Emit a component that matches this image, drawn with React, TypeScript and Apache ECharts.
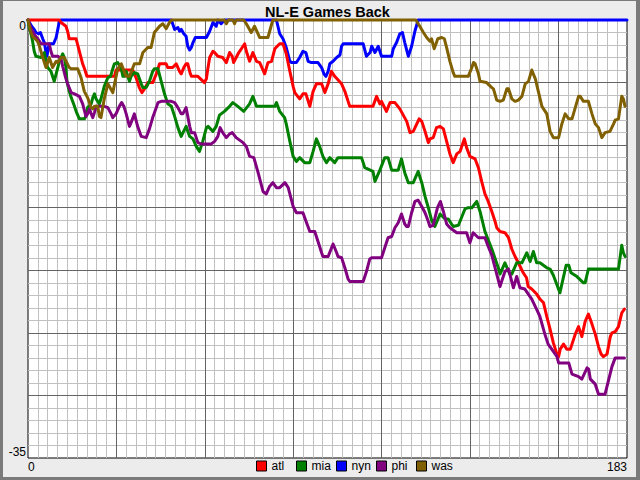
import React, { useEffect, useRef } from "react";
import * as echarts from "echarts";

// ---- data (game number, games back) ----
const seriesNames = ["atl", "mia", "nyn", "phi", "was"];
const seriesColors = ["#ff0000", "#008000", "#0000ff", "#800080", "#806000"];
// drawing order (first = bottom-most line)
const drawOrder = [2, 0, 1, 3, 4];

const atl: [number, number][] = [
  [0, 0], [9.6, 0], [10.1, -0.2], [11.6, -0.5], [12.1, -0.9], [12.6, -1.5], [14.7, -1.5], [15.2, -2], [15.7, -2.5],
  [16.2, -3], [16.7, -3.5], [17.4, -4], [18, -4.5], [26.4, -4.5], [26.9, -4], [32, -4], [33, -4.6], [34, -5.4],
  [34.8, -5.8], [35.6, -5.5], [36.6, -5], [38.1, -5], [39.2, -4.3], [39.7, -3.9], [40.2, -3.5], [42.2, -3.5],
  [42.7, -3.8], [44.2, -3.8], [45.3, -3.5], [46.3, -4.1], [46.8, -4.3], [47.6, -3.8], [48.3, -3.5], [48.8, -3.5],
  [49.6, -4.3], [49.9, -4.5], [51.9, -4.5], [52.7, -4.7], [53.9, -5], [54.5, -4.7], [55, -3.8], [55.5, -3],
  [56.5, -2.5], [57, -2.6], [58, -2.9], [59.5, -3], [60.6, -3.4], [61.1, -3], [61.6, -2.6], [62.4, -2.9],
  [62.8, -3.4], [63.6, -3], [64.4, -2.6], [65.7, -2.1], [66.2, -1.9], [66.7, -2.5], [67.7, -3.3], [68.7, -2.6],
  [69.8, -3.3], [70.8, -3.4], [72.3, -4.3], [73.3, -3.4], [74.4, -3.3], [75.4, -2.3], [76.9, -1.9], [77.9, -1.9],
  [78.9, -2.7], [80, -4.1], [81, -5.3], [81.5, -5.8], [83, -6.3], [84, -5.9], [84.9, -5.9], [86.1, -6.9],
  [87.1, -5.7], [88.1, -5.1], [89.7, -5.1], [90.7, -5.8], [91.7, -5.1], [92.7, -4.1], [93.7, -4.5], [95.8, -5.1],
  [96.8, -5.7], [98.3, -6.9], [105.4, -6.9], [106.5, -6.1], [107.5, -6.7], [108, -6.5], [109.5, -7.3],
  [110.6, -6.6], [112.1, -6.6], [113.6, -7.1], [115.7, -8.1], [116.7, -9], [117.7, -8.9], [119.5, -7.9],
  [120.3, -8.1], [121.3, -8.9], [122.3, -9.8], [122.8, -9.5], [123.8, -9.4], [124.8, -8.6], [125.9, -8.5],
  [126.9, -8.7], [127.9, -9.7], [128.9, -10.7], [129.9, -11.4], [131, -10.7], [132, -10.5], [133.3, -9.5],
  [134, -10.2], [135, -10.9], [136.6, -11.1], [137.6, -11.8], [138.6, -12.9], [139.6, -13.9], [140.6, -14.5],
  [141.7, -15.3], [142.7, -16.1], [143.2, -16.6], [144.2, -16.9], [145.7, -17], [146.8, -17.4], [147.8, -18.3],
  [148.8, -18.9], [149.8, -19.4], [151.3, -20.2], [152.3, -20.6], [152.8, -21.3], [153.9, -21.5], [155.4, -21.9],
  [156.4, -22.3], [157.5, -22.6], [158.5, -23.7], [159.5, -24.7], [160.5, -25.8], [161.6, -26.7], [162.1, -26.9],
  [162.6, -26.3], [163.6, -25.9], [164.6, -26.3], [165.7, -26.3], [167.2, -25.1], [168.2, -24.5], [169.2, -25.3],
  [170.2, -24.1], [171.2, -23.5], [172.3, -24.3], [173.3, -25.1], [174.3, -26.1], [175.1, -26.7], [175.8, -26.9],
  [176.9, -26.7], [177.9, -25.3], [178.4, -25], [179.4, -24.9], [180.4, -24.5], [181.4, -23.4], [182.2, -23.1],
];

const mia: [number, number][] = [
  [0, 0], [0.4, -0.6], [0.9, -1.1], [1.4, -1.7], [1.9, -2.5], [2.4, -2.9], [4, -3], [5, -2.6], [5.5, -3.3],
  [6, -3.8], [7, -4.1], [8, -4.9], [8.6, -4.3], [9.6, -3.3], [10.6, -2.7], [11.1, -3], [11.6, -3.8], [11.9, -4.9],
  [12.6, -5.7], [13.2, -6.2], [14.2, -6.9], [14.7, -7.3], [15.7, -7.9], [17.2, -7.9], [17.7, -7.7], [18.2, -7],
  [19.3, -6.7], [19.8, -6.2], [20.3, -5.9], [20.8, -6.3], [21.8, -6.7], [22.3, -6.3], [23.3, -5.3], [24.4, -4.6],
  [25.2, -4.5], [25.9, -3.9], [26.4, -3.5], [27.4, -3.4], [28.5, -3.9], [29, -4.5], [29.5, -4.5], [30, -4.1],
  [31, -4.9], [31.5, -4.5], [32.5, -4.2], [33.5, -4.3], [34.6, -5.1], [35.1, -5.4], [36.1, -5.4], [37.1, -4.9],
  [38.1, -4.1], [38.6, -3.9], [39.7, -3.9], [40.7, -4.9], [41.7, -5.9], [42.7, -6.7], [43.8, -6.9], [44.8, -7.7],
  [45.8, -8.6], [46.8, -9.3], [48.3, -8.5], [49.4, -9.3], [50.4, -9.5], [51.4, -10.1], [52.4, -10.5],
  [53.4, -9.7], [54.5, -8.6], [55, -8.5], [56.5, -8.9], [57.5, -8.5], [58.5, -7.6], [60, -7.3], [61.6, -6.9],
  [62.6, -6.6], [64.1, -6.9], [65.9, -7.3], [67.7, -6.7], [68.7, -6.1], [69.8, -6.9], [75.4, -6.9], [75.9, -6.6],
  [76.9, -7.3], [78.4, -7.8], [78.9, -8.3], [80, -9.7], [81, -10.9], [82, -11.3], [83, -11], [84.5, -11.4],
  [86.1, -11.4], [87.1, -10.5], [88.1, -9.5], [89.1, -10.1], [90.1, -10.9], [91.2, -11.4], [92.2, -11],
  [93.7, -11.4], [94.7, -11], [101.9, -11], [102.9, -11.8], [105.4, -12.1], [106, -12.9], [107.5, -12],
  [109, -11], [110, -11], [111.1, -12], [113.1, -12], [114.1, -11.1], [115.1, -12.2], [116.2, -13],
  [117.7, -13], [119.2, -12.1], [120.3, -13], [121.3, -14.1], [122.3, -15], [123.3, -16], [124.3, -16.5],
  [125.9, -15.5], [127.4, -15.9], [128.4, -15.9], [129.9, -16.5], [131.5, -16.4], [133.5, -15.1], [134.5, -15],
  [135.6, -15], [137.1, -14.5], [138.1, -15.3], [139.6, -16.9], [141.7, -18.3], [143.8, -19.9], [144.2, -20.3],
  [145.7, -19.4], [147.2, -20.3], [147.8, -20.3], [149.3, -19.4], [150.9, -19.4], [152.4, -18.6], [153.4, -19.3],
  [154.4, -18.5], [155.4, -19.4], [156.4, -19.4], [158.5, -19.8], [159.5, -19.9], [160.5, -20.4], [162.5, -21.8],
  [164.4, -19.6], [165.2, -19.6], [165.9, -20.2], [167.7, -20.5], [169.7, -21], [170.2, -21], [171.2, -19.9],
  [180.4, -19.9], [181.4, -18], [181.9, -18.6], [182.4, -18.9],
];

const nyn: [number, number][] = [
  [0, 0], [1.1, -0.5], [1.9, -0.75], [2.4, -1], [3.2, -1.1], [3.8, -1], [4.5, -1.5], [5, -1.8], [5.5, -2.6],
  [5.8, -2.9], [6.2, -2.2], [6.5, -1.9], [7.8, -1.9], [8.6, -1.4], [9.1, -0.75], [9.6, -0.1], [10, 0],
  [43.8, 0], [44.8, -0.75], [45.8, -0.6], [46.3, -0.9], [46.8, -0.75], [47.6, -1.1], [48.3, -1.3], [48.8, -2.1],
  [49.4, -2.4], [49.9, -2.2], [50.4, -1.8], [51.1, -1.4], [54.5, -1.4], [55.5, -0.9], [56.5, -0.2], [57.5, -0.5],
  [58, 0], [59, -0.3], [60, 0], [75.9, 0], [76.9, -1.1], [77.9, -1.5], [78.9, -2.2], [80, -3.3], [80.5, -3.4],
  [82, -3.4], [83, -3], [84, -2.5], [84.9, -2.6], [85.6, -3.3], [86.6, -3.4], [88.6, -3.4], [89.7, -3.8],
  [90.4, -4.3], [91, -4.5], [91.7, -4.1], [92.2, -3.5], [93.2, -3.3], [94.3, -3], [95.3, -2.8], [95.8, -2.1],
  [96.3, -1.9], [102.4, -1.9], [103.4, -2.9], [104.5, -2.6], [105, -2.1], [106, -2.6], [107, -2.1], [108, -2.9],
  [111.1, -2.9], [111.6, -2.3], [112.6, -1.8], [113.6, -1.1], [114.4, -1], [115.1, -1.8], [116.2, -2.9],
  [117.2, -2.1], [118.2, -0.9], [119.2, 0], [183, 0],
];

const phi: [number, number][] = [
  [0, 0], [1, -0.7], [2, -1.2], [3, -1.5], [4, -1.9], [6.5, -1.9], [7, -2.5], [7.5, -2.9], [9.1, -2.9],
  [10.1, -3.1], [10.6, -3.7], [11.6, -4.7], [12.1, -5.1], [13.2, -5.8], [14.2, -5.9], [15.7, -6.1], [16.7, -6.7],
  [17.7, -7.7], [18.2, -7.5], [18.8, -7.1], [19.3, -7.5], [19.8, -7.8], [20.3, -7.4], [20.8, -6.9], [23.3, -6.9],
  [24.4, -7], [25.4, -7.5], [25.9, -7.8], [26.9, -7.5], [27.9, -6.9], [28.6, -6.6], [29.3, -6.9], [30, -7.5],
  [31, -8.5], [31.5, -8.2], [32.5, -7.5], [33.5, -8.5], [34.6, -9.3], [36.1, -9.4], [37.1, -8.7], [38.1, -7.8],
  [39.2, -7], [39.7, -6.6], [40.7, -6.5], [43.8, -6.5], [44.8, -6.6], [45.8, -7], [46.8, -7.5], [47.3, -7.5],
  [48.3, -7], [49.4, -8.5], [49.9, -9], [50.9, -9], [51.9, -9.8], [52.9, -9.9], [56, -9.9], [57, -9.7],
  [58, -9.3], [58.7, -8.6], [59.5, -9], [60.6, -9.4], [61.6, -9.1], [62.4, -9], [63.6, -9.4], [65.7, -9.8],
  [66.7, -10.1], [67.7, -10.9], [69, -11], [70.3, -12.2], [71.8, -13.7], [72.8, -13.9], [73.8, -13.3],
  [74.8, -13], [75.9, -13.4], [76.9, -13.4], [78.5, -13], [79.5, -13.4], [80, -13.9], [81, -14.9], [82, -15.4],
  [84, -15.4], [85.1, -16.2], [86.1, -16.9], [87.6, -16.9], [88.6, -17.7], [89.7, -18.6], [90.1, -18.9],
  [91.7, -18.9], [93.2, -17.9], [94.3, -18.6], [94.7, -18.9], [95.8, -19], [96.8, -19.8], [97.8, -20.7],
  [98.3, -20.9], [102.4, -20.9], [103.4, -20.1], [104.4, -19.1], [105, -19], [108, -19], [109, -18.2],
  [110, -17.4], [111.1, -17.3], [112.1, -16.6], [113.1, -16.2], [114.1, -15.5], [115.1, -16.3], [115.7, -16.5],
  [116.2, -16.5], [117.2, -15.4], [118.2, -14.5], [119.2, -14.4], [120.3, -14.9], [121.3, -15.4], [122.3, -16.1],
  [122.8, -16.5], [123.8, -16.4], [125.1, -15], [126, -14.5], [126.9, -15.3], [127.9, -16.3], [128.9, -16.6],
  [131, -17], [134, -17], [135, -17.8], [136, -17], [137.6, -17.4], [139.6, -17.4], [140.6, -18.1],
  [141.7, -18.8], [142.7, -19.8], [144.2, -21.3], [145.7, -20.1], [146.8, -19.9], [148.3, -21.4], [149.3, -20.5],
  [150.3, -21.4], [151.8, -21.5], [153.9, -22.3], [155.9, -23.4], [156.4, -23.7], [157.9, -25.1], [158.9, -25.9],
  [160, -26.3], [161.6, -26.9], [162.1, -27.4], [165.2, -27.4], [166.2, -28.3], [168.2, -28.5], [169.2, -28.7],
  [170.8, -27.8], [171.3, -27.9], [171.8, -28.7], [173.3, -29.1], [174.3, -29.9], [176.3, -29.9], [178.4, -27.7],
  [179.4, -27], [182.2, -27],
];

const was: [number, number][] = [
  [0, 0], [0.9, -1], [1.4, -1.3], [2.9, -1.7], [3.5, -2.1], [4.5, -3], [5.5, -3.8], [6.5, -3], [7.5, -3.8],
  [8.6, -3.3], [9.1, -3.4], [10.1, -3], [11.1, -3], [12.6, -3.8], [13.2, -3.9], [15.2, -3.9], [16.2, -4.6],
  [17.2, -5.7], [18.2, -6.2], [19.3, -7], [19.8, -7.1], [20.3, -6.9], [21.3, -6.9], [21.8, -7.7], [22.3, -7.8],
  [23.3, -6.3], [24.4, -5.1], [25.9, -5.8], [27.4, -3.9], [28.5, -3.5], [29.5, -4.2], [30, -4.5], [31, -4.5],
  [32.5, -3.5], [34.1, -3.5], [35.1, -2.6], [36.6, -2.2], [37.6, -2.2], [38.6, -1], [40.2, -0.5], [41.2, -0.3],
  [42.2, -0.7], [43.2, -0.2], [43.8, 0], [60, 0], [60.6, -0.3], [61.2, 0], [62.6, 0], [63.1, -0.3], [63.6, 0],
  [65.9, 0], [66.7, -0.3], [68.2, -1], [69.2, -0.5], [70.8, -1.4], [73.3, -1.4], [74.8, 0], [118.5, 0],
  [119.7, -0.5], [120.8, -1], [121.8, -1.4], [122.8, -1.7], [123.3, -1.5], [124.1, -2.3], [125.2, -1.5],
  [126.4, -1.4], [127.2, -1.5], [127.9, -2.2], [128.9, -3.3], [129.9, -4.2], [130.4, -4.5], [134.5, -4.5],
  [135.6, -3.8], [136.1, -3.4], [136.6, -3.5], [137.6, -4.3], [138.1, -4.9], [140.1, -5], [141.7, -5.4],
  [142.2, -5.5], [143.2, -6.4], [144.2, -6.5], [145.2, -6.4], [146.3, -5.5], [146.8, -5.5], [147.8, -6.3],
  [148.8, -6.5], [149.8, -6.4], [150.9, -6.1], [151.9, -5.1], [152.9, -4.9], [153.9, -4], [155, -4.7],
  [156, -5.8], [157, -6.9], [158, -7.3], [158.5, -7.5], [159.5, -8.9], [160.5, -9.4], [162.1, -9.4],
  [163.1, -8.3], [164.1, -7.5], [165.2, -7.9], [166.2, -7.9], [167.2, -7], [168.2, -6.1], [168.7, -6.1],
  [169.7, -6.5], [171.2, -6.5], [172.3, -7.5], [173.3, -8.3], [174.3, -8.6], [175.3, -9.4], [176.3, -9],
  [177.8, -8.9], [178.9, -8.3], [179.4, -8], [180.4, -7.9], [180.9, -7], [181.4, -6.1], [181.9, -6.3],
  [182.4, -6.9],
];

const seriesData = [atl, mia, nyn, phi, was];

// axis ranges and tick labels
const xMin = 0;
const xMax = 183;
const yMin = -35;
const yMax = 0;
const xMinorStep = 3;
const xMajorStep = 27;
const yMinorStep = 1;
const yMajorStep = 5;
const xTickLabels = [0, 183];
const yTickLabels = [0, -35];

const titleText = "NL-E Games Back";
const FONT = "'Liberation Sans', Arial, sans-serif";
const MINOR = "#c0c0c0";
const MAJOR = "#646464";
const LEGEND_LEFT = 256;
const LEGEND_STEP = 40;

export default function App() {
  const ref = useRef<HTMLDivElement>(null);

  useEffect(() => {
    if (!ref.current) return;
    const chart = echarts.init(ref.current, null, { renderer: "svg", width: 640, height: 480 });

    const hidden = {
      axisLine: { show: false, onZero: false },
      axisTick: { show: false },
      axisLabel: { show: false },
    };

    const option: any = {
      animation: false,
      backgroundColor: "transparent",
      textStyle: { fontFamily: FONT },
      title: {
        text: titleText,
        left: 265,
        top: 4,
        padding: 0,
        textStyle: { fontSize: 14.5, fontWeight: "bold", color: "#000", fontFamily: FONT },
      },
      legend: seriesNames.map((name, i) => ({
        data: [name],
        left: LEGEND_LEFT + LEGEND_STEP * i,
        top: 460,
        padding: 0,
        itemGap: 0,
        itemWidth: 10,
        itemHeight: 10,
        icon: "rect",
        selectedMode: false,
        itemStyle: { borderColor: "#000", borderWidth: 1 },
        textStyle: { fontSize: 12, color: "#000", fontFamily: FONT },
      })),
      grid: {
        left: 28,
        right: 13,
        top: 20,
        bottom: 22,
        show: true,
        backgroundColor: "#ffffff",
        borderColor: "#000000",
        borderWidth: 1,
      },
      xAxis: [
        {
          type: "value", min: xMin, max: xMax, interval: xMinorStep, position: "bottom", z: 0,
          ...hidden,
          splitLine: { show: true, showMinLine: false, showMaxLine: false, lineStyle: { color: MINOR, width: 1 } },
        },
        {
          type: "value", min: xMin, max: xMax, interval: xMajorStep, position: "bottom", z: 1,
          ...hidden,
          axisLabel: {
            show: true,
            margin: 3,
            color: "#000",
            fontSize: 12,
            fontFamily: FONT,
            alignMinLabel: "left",
            alignMaxLabel: "right",
            formatter: (v: number) => (xTickLabels.includes(v) ? String(v) : ""),
          },
          splitLine: { show: true, showMinLine: false, showMaxLine: false, lineStyle: { color: MAJOR, width: 1 } },
        },
      ],
      yAxis: [
        {
          type: "value", min: yMin, max: yMax, interval: yMinorStep, position: "left", z: 0,
          ...hidden,
          splitLine: { show: true, showMinLine: false, showMaxLine: false, lineStyle: { color: MINOR, width: 1 } },
        },
        {
          type: "value", min: yMin, max: yMax, interval: yMajorStep, position: "left", z: 1,
          ...hidden,
          axisLabel: {
            show: true,
            margin: 2,
            color: "#000",
            fontSize: 12,
            fontFamily: FONT,
            verticalAlignMinLabel: "bottom",
            verticalAlignMaxLabel: "top",
            formatter: (v: number) => (yTickLabels.includes(v) ? String(v) : ""),
          },
          splitLine: { show: true, showMinLine: false, showMaxLine: false, lineStyle: { color: MAJOR, width: 1 } },
        },
      ],
      series: drawOrder.map((i, k) => ({
        name: seriesNames[i],
        type: "line",
        xAxisIndex: 0,
        yAxisIndex: 0,
        data: seriesData[i],
        color: seriesColors[i],
        showSymbol: false,
        symbol: "none",
        clip: false,
        z: 3 + k,
        lineStyle: { width: 3, color: seriesColors[i], join: "round", cap: "round" },
      })),
    };

    chart.setOption(option);
    return () => chart.dispose();
  }, []);

  return (
    <div
      style={{
        position: "fixed",
        left: 0,
        top: 0,
        width: 640,
        height: 480,
        boxSizing: "border-box",
        background: "#ececec",
        borderStyle: "solid",
        borderColor: "#7a7a7a",
        borderWidth: "1px 4px 3px 3px",
      }}
    >
      <div ref={ref} style={{ position: "absolute", left: -3, top: -1, width: 640, height: 480 }} />
    </div>
  );
}
